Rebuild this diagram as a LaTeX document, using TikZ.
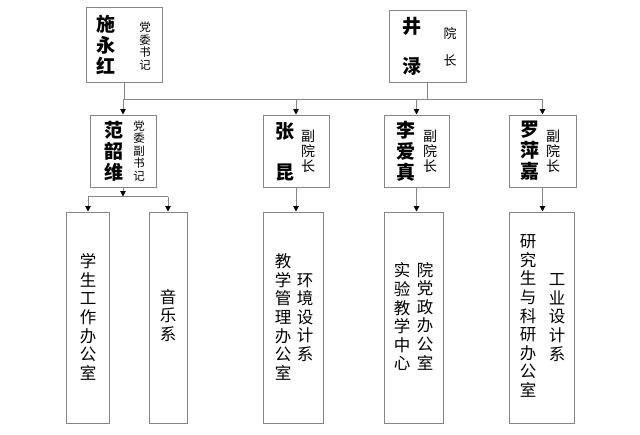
\documentclass[tikz,border=0pt]{standalone}
\usepackage{fontspec}
\newfontfamily\cjk{Noto Sans CJK SC}
\usetikzlibrary{arrows.meta}
\definecolor{boxgray}{HTML}{858585}
\definecolor{linegray}{HTML}{858585}
\tikzset{
  orgbox/.style={draw=boxgray, line width=1pt, fill=white, inner sep=0pt, anchor=center},
  conn/.style={draw=linegray, line width=1pt},
  arr/.style={conn, -{Triangle[color=black,length=5.5pt,width=5.5pt]}},
  vtext/.style={inner sep=0pt, align=center, anchor=center},
  pname/.style={vtext, font=\cjk\bfseries\fontsize{19}{21}\selectfont},
  ptitle/.style={vtext, font=\cjk\fontsize{11.5}{12.5}\selectfont},
  pvice/.style={vtext, font=\cjk\fontsize{14}{15}\selectfont},
  pdept/.style={vtext, font=\cjk\fontsize{16.5}{18.6}\selectfont},
}
\begin{document}
\begin{tikzpicture}[x=1pt,y=-1pt]
\useasboundingbox[fill=white] (0,0) rectangle (640,434);
% top level boxes
\node[orgbox, minimum width=76pt, minimum height=75pt] (b1) at (124,44.5) {};
\node[orgbox, minimum width=77pt, minimum height=72pt] (b2) at (427.5,46) {};
% second level
\node[orgbox, minimum width=66pt, minimum height=72pt] (b3) at (123,151) {};
\node[orgbox, minimum width=66pt, minimum height=72pt] (b4) at (296,151) {};
\node[orgbox, minimum width=65pt, minimum height=72pt] (b5) at (416.5,151) {};
\node[orgbox, minimum width=67pt, minimum height=72pt] (b6) at (542.5,151) {};
% bottom level
\node[orgbox, minimum width=43pt, minimum height=211pt] (b7) at (88,317.5) {};
\node[orgbox, minimum width=38pt, minimum height=211pt] (b8) at (168,317.5) {};
\node[orgbox, minimum width=60pt, minimum height=211pt] (b9) at (293.5,317.5) {};
\node[orgbox, minimum width=59pt, minimum height=211pt] (b10) at (414,317.5) {};
\node[orgbox, minimum width=65pt, minimum height=211pt] (b11) at (541.5,317.5) {};

% texts
\node[pname] (t1) at (106,45) {施\\永\\红};
\node[ptitle] (t1b) at (145,46) {党\\委\\书\\记};
\node[pname, font=\cjk\bfseries\fontsize{19}{40}\selectfont] (t2) at (412,46) {井\\渌};
\node[vtext, font=\cjk\fontsize{13}{27}\selectfont] (t2b) at (450,46.5) {院\\长};
\node[pname] (t3) at (114,151) {范\\韶\\维};
\node[ptitle] (t3b) at (139,151) {党\\委\\副\\书\\记};
\node[pname, font=\cjk\bfseries\fontsize{19}{41}\selectfont] (t4) at (285,152) {张\\昆};
\node[pvice] (t4b) at (308,151) {副\\院\\长};
\node[pname] (t5) at (406,151) {李\\爱\\真};
\node[pvice] (t5b) at (430,151) {副\\院\\长};
\node[pname] (t6) at (530,151) {罗\\萍\\嘉};
\node[pvice] (t6b) at (553,151) {副\\院\\长};
\node[pdept] (t7) at (88,317) {学\\生\\工\\作\\办\\公\\室};
\node[pdept] (t8) at (168,315.5) {音\\乐\\系};
\node[pdept] (t9) at (283,317) {教\\学\\管\\理\\办\\公\\室};
\node[pdept] (t9b) at (305,317.5) {环\\境\\设\\计\\系};
\node[pdept] (t10) at (402,317) {实\\验\\教\\学\\中\\心};
\node[pdept] (t10b) at (425,316) {院\\党\\政\\办\\公\\室};
\node[pdept] (t11) at (528,316) {研\\究\\生\\与\\科\\研\\办\\公\\室};
\node[pdept] (t11b) at (557,317.5) {工\\业\\设\\计\\系};

% connectors
\coordinate (h1) at (123,99);
\coordinate (h2) at (542.5,99);
\draw[conn] (b1.south) -- (b1.south |- h1) -- (h2);
\draw[conn] (b2.south) -- (b2.south |- h1);
\draw[arr] (b3.north |- h1) -- (b3.north);
\draw[arr] (b4.north |- h1) -- (b4.north);
\draw[arr] (b5.north |- h1) -- (b5.north);
\draw[arr] (b6.north |- h1) -- (b6.north);
\coordinate (h3) at (123,196.5);
\draw[arr] (b3.south) -- (h3);
\draw[conn] (b7.north |- h3) -- (b8.north |- h3);
\draw[arr] (b7.north |- h3) -- (b7.north);
\draw[arr] (b8.north |- h3) -- (b8.north);
\draw[arr] (b4.south) -- (b4.south |- b9.north);
\draw[arr] (b5.south) -- (b5.south |- b10.north);
\draw[arr] (b6.south) -- (b6.south |- b11.north);
\end{tikzpicture}
\end{document}
